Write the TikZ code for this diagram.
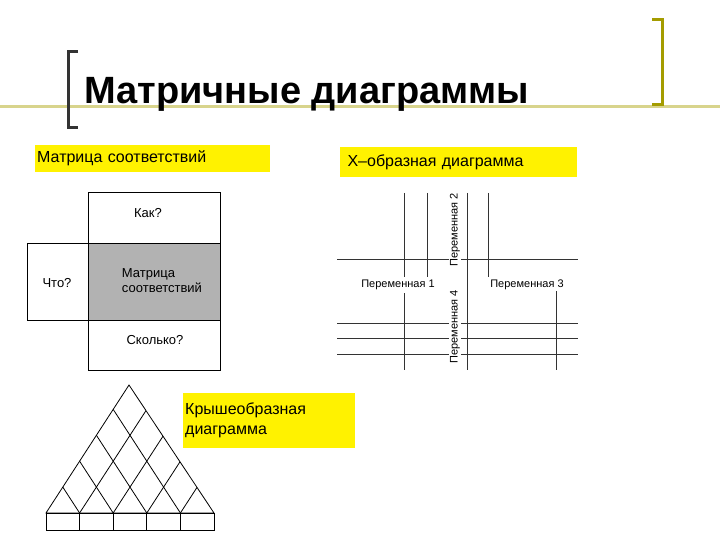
\documentclass[tikz,border=0pt]{standalone}
\usepackage{fontspec}
\setmainfont{Liberation Sans}
\begin{document}
\begin{tikzpicture}[x=1pt,y=-1pt,
  lbl/.style={fill=yellow,inner sep=2pt,anchor=north west,align=left,text width=#1,font=\fontsize{16}{20}\selectfont},
  cell/.style={draw,line width=1pt},
  txt/.style={font=\fontsize{13}{15}\selectfont,align=left},
  xl/.style={fill=white,inner sep=1pt,font=\fontsize{11}{13}\selectfont},
  gl/.style={line width=0.5pt,draw=black!80}]
\useasboundingbox (0,0) rectangle (720,540);
% header
\draw[draw=olive!35!white,line width=3pt] (0,107) -- (720,107);
\draw[line width=3pt,draw=black!80] (78,52) -- (68,52) -- (68,128) -- (78,128);
\draw[line width=3pt,draw=olive!80!yellow] (652,20) -- (662,20) -- (662,105) -- (652,105);
\node[font=\bfseries\fontsize{38}{42}\selectfont,anchor=west,inner sep=0pt] (title) at (84,94) {Матричные диаграммы};
% labels
\node[lbl=231pt,minimum height=27pt] (l1) at (35,145) {Матрица соответствий};
\node[lbl=233pt,minimum height=30pt] (l2) at (340,147) {\ X–образная диаграмма};
\node[lbl=168pt,minimum height=55pt] (l3) at (183,393) {Крышеобразная\\диаграмма};
% matrix
\node[cell,minimum width=132pt,minimum height=51pt,anchor=north west] (top) at (88,192) {};
\node[cell,fill=black!30,minimum width=132pt,minimum height=77pt,anchor=north west] (mid) at (88,243) {};
\node[cell,minimum width=61pt,minimum height=77pt,anchor=north west] (left) at (27,243) {};
\node[cell,minimum width=132pt,minimum height=50pt,anchor=north west] (bot) at (88,320) {};
\node[txt] (t1) at (148,213) {Как?};
\node[txt] (t2) at (57,283) {Что?};
\node[txt] (t3) at (162,281) {Матрица\\соответствий};
\node[txt] (t4) at (155,340) {Сколько?};
% X diagram
\draw[gl] (467,193) -- (467,370);
\draw[gl] (404,193) -- (404,277) (404,293) -- (404,370);
\draw[gl] (427,193) -- (427,277);
\draw[gl] (488,193) -- (488,277);
\draw[gl] (556,291) -- (556,370);
\foreach \y in {259,323,338,354} \draw[gl] (337,\y) -- (578,\y);
\node[xl] (v1) at (398,285) {Переменная 1};
\node[xl] (v3) at (527,285) {Переменная 3};
\node[xl,rotate=90] (v2) at (455,230) {Переменная 2};
\node[xl,rotate=90] (v4) at (455,327) {Переменная 4};
% roof
\begin{scope}[line width=0.8pt]
\draw (46,513) -- (129,385) -- (214,513) -- cycle;
\begin{scope}
\clip (46,513) -- (129,385) -- (214,513) -- cycle;
\foreach \i in {1,...,4}{
  \pgfmathsetmacro{\xx}{46+\i*33.6}
  \draw (\xx,513) -- ++(83*1.5,-128*1.5);
  \draw (\xx,513) -- ++(-83*1.5,-128*1.5);
}
\end{scope}
\draw (46,513) rectangle (214,530);
\foreach \i in {1,...,4}{\pgfmathsetmacro{\xx}{46+\i*33.6}\draw (\xx,513) -- (\xx,530);}
\end{scope}
\end{tikzpicture}
\end{document}
